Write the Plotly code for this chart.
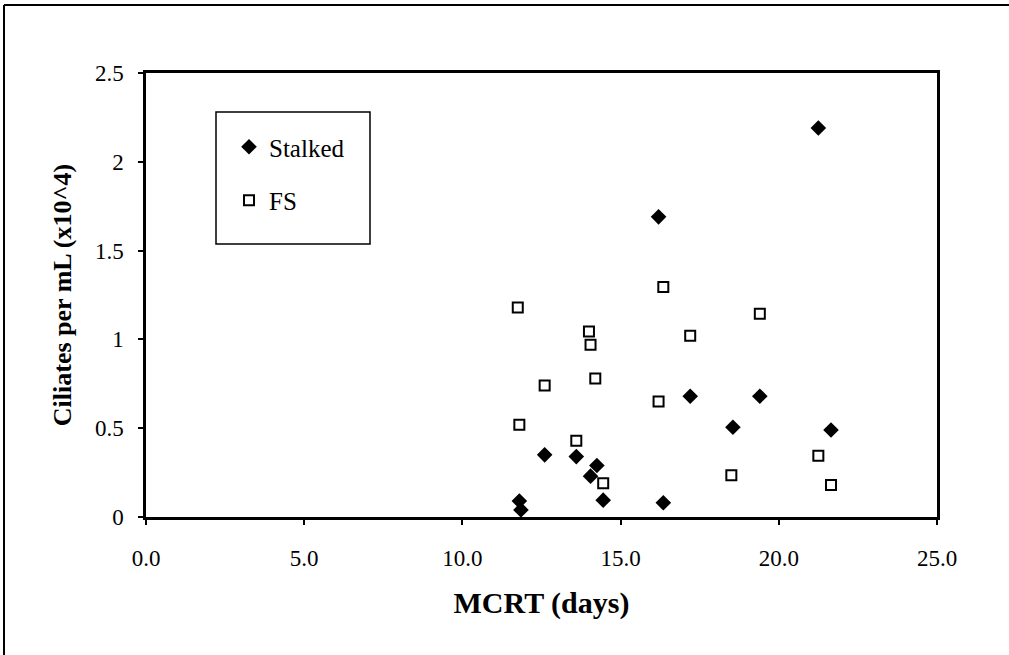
import plotly.graph_objects as go

# Data
stalked_x = [11.8, 11.85, 12.6, 13.6, 14.05, 14.25, 14.45, 16.2, 16.35, 17.2, 18.55, 19.4, 21.25, 21.65]
stalked_y = [0.09, 0.04, 0.35, 0.34, 0.23, 0.29, 0.095, 1.69, 0.08, 0.68, 0.505, 0.68, 2.19, 0.49]

fs_x = [11.75, 11.8, 12.6, 13.6, 14.0, 14.05, 14.2, 14.45, 16.2, 16.35, 17.2, 18.5, 19.4, 21.25, 21.65]
fs_y = [1.18, 0.52, 0.74, 0.43, 1.045, 0.97, 0.78, 0.19, 0.65, 1.295, 1.02, 0.235, 1.145, 0.345, 0.18]

x_ticks = [0, 5, 10, 15, 20, 25]
y_ticks = [0, 0.5, 1, 1.5, 2, 2.5]

FONT = "Liberation Serif, Times New Roman, serif"

# plot area in pixels (for paper-coordinate conversions of decorations)
L, R, T, B = 146, 937, 73, 517
W, H = R - L, B - T
def px(x): return (x - L) / W
def py(y): return (B - y) / H

fig = go.Figure()
fig.add_trace(go.Scatter(
    x=stalked_x, y=stalked_y, mode="markers", name="Stalked", legendgroup="a",
    marker=dict(symbol="diamond", size=12, color="black", line=dict(width=0)),
))
fig.add_trace(go.Scatter(
    x=fs_x, y=fs_y, mode="markers", name="FS", legendgroup="b",
    marker=dict(symbol="square-open", size=10, color="black", line=dict(width=2, color="black")),
))

axis_common = dict(showgrid=False, zeroline=False)

fig.update_layout(
    width=1009, height=655,
    margin=dict(l=L, r=1009 - R, t=T, b=655 - B),
    paper_bgcolor="white", plot_bgcolor="white",
    font=dict(family=FONT, size=23, color="black"),
    showlegend=True,
    legend=dict(
        x=px(229), y=py(124), xanchor="left", yanchor="top",
        borderwidth=0, bgcolor="rgba(0,0,0,0)",
        font=dict(family=FONT, size=25, color="black"),
        tracegroupgap=18,
    ),
    xaxis=dict(
        range=[0, 25], tickvals=x_ticks, tickformat=".1f",
        showline=True, linecolor="black", linewidth=2.5, mirror=True,
        ticks="outside", ticklen=5, tickwidth=1.5, tickcolor="black",
        ticklabelstandoff=14,
        tickfont=dict(family=FONT, size=23),
        title=dict(text="<b>MCRT (days)</b>", font=dict(family=FONT, size=30), standoff=22),
        **axis_common,
    ),
    yaxis=dict(
        range=[0, 2.5], tickvals=y_ticks,
        showline=True, linecolor="black", linewidth=2.5, mirror=True,
        ticks="outside", ticklen=5, tickwidth=1.5, tickcolor="black",
        ticklabelstandoff=10,
        tickfont=dict(family=FONT, size=23),
        title=dict(text="<b>Ciliates per mL (x10^4)</b>", font=dict(family=FONT, size=26), standoff=16),
        **axis_common,
    ),
    xaxis2=dict(
        overlaying="x", matches="x", range=[0, 25], tickvals=x_ticks,
        ticks="inside", ticklen=4, tickwidth=1.5, tickcolor="black",
        showticklabels=False, showline=False, side="bottom", **axis_common,
    ),
    yaxis2=dict(
        overlaying="y", matches="y", range=[0, 2.5], tickvals=y_ticks,
        ticks="inside", ticklen=4, tickwidth=1.5, tickcolor="black",
        showticklabels=False, showline=False, side="left", **axis_common,
    ),
    shapes=[
        # outer frame of the figure
        dict(type="line", xref="paper", yref="paper",
             x0=px(4), x1=px(1012), y0=py(5), y1=py(5),
             line=dict(color="black", width=2)),
        dict(type="line", xref="paper", yref="paper",
             x0=px(4), x1=px(4), y0=py(5), y1=py(660),
             line=dict(color="black", width=2)),
        # legend box
        dict(type="rect", xref="paper", yref="paper",
             x0=px(216), x1=px(370), y0=py(112), y1=py(244),
             line=dict(color="black", width=1.5), fillcolor="rgba(0,0,0,0)", layer="above"),
    ],
)

fig.write_html("out.html")
